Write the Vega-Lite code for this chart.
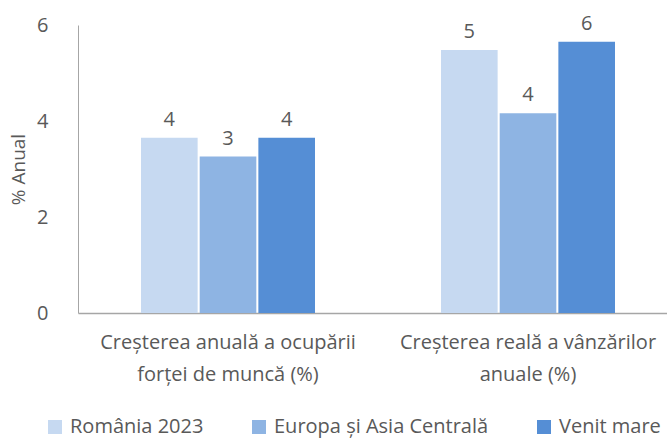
{
  "$schema": "https://vega.github.io/schema/vega-lite/v6.json",
  "width": 600,
  "height": 288,
  "autosize": {"type": "none"},
  "padding": {"left": 78, "top": 25, "right": 0, "bottom": 126},
  "background": "white",
  "config": {"view": {"stroke": null}, "font": "Open Sans"},
  "data": {
    "values": [
      {"indicator": "Creșterea anuală a ocupării forței de muncă (%)", "region": "România 2023", "value": 3.65},
      {"indicator": "Creșterea anuală a ocupării forței de muncă (%)", "region": "Europa și Asia Centrală", "value": 3.26},
      {"indicator": "Creșterea anuală a ocupării forței de muncă (%)", "region": "Venit mare", "value": 3.65},
      {"indicator": "Creșterea reală a vânzărilor anuale (%)", "region": "România 2023", "value": 5.48},
      {"indicator": "Creșterea reală a vânzărilor anuale (%)", "region": "Europa și Asia Centrală", "value": 4.16},
      {"indicator": "Creșterea reală a vânzărilor anuale (%)", "region": "Venit mare", "value": 5.65}
    ]
  },
  "encoding": {
    "x": {
      "field": "indicator",
      "type": "nominal",
      "sort": null,
      "scale": {"paddingInner": 0.42, "paddingOuter": 0.21},
      "axis": {
        "title": null,
        "labelAngle": 0,
        "ticks": false,
        "labelPadding": 19,
        "labelFontSize": 20,
        "labelLineHeight": 32,
        "labelColor": "#595959",
        "labelLimit": 400,
        "domainColor": "#A6A6A6",
        "domainWidth": 1.5,
        "labelExpr": "datum.value == 'Creșterea anuală a ocupării forței de muncă (%)' ? ['Creșterea anuală a ocupării', 'forței de muncă (%)'] : ['Creșterea reală a vânzărilor', 'anuale (%)']"
      }
    },
    "xOffset": {
      "field": "region",
      "type": "nominal",
      "sort": ["România 2023", "Europa și Asia Centrală", "Venit mare"],
      "scale": {"paddingInner": 0.035}
    },
    "y": {
      "field": "value",
      "type": "quantitative",
      "scale": {"domain": [0, 6]},
      "axis": {
        "values": [0, 2, 4, 6],
        "grid": false,
        "ticks": false,
        "labelPadding": 30,
        "labelFontSize": 20,
        "labelColor": "#595959",
        "domainColor": "#A6A6A6",
        "title": "% Anual",
        "titleFontSize": 19,
        "titleFontWeight": "normal",
        "titleColor": "#595959",
        "titlePadding": 8
      }
    }
  },
  "layer": [
    {
      "mark": {"type": "bar"},
      "encoding": {
        "color": {
          "field": "region",
          "type": "nominal",
          "sort": ["România 2023", "Europa și Asia Centrală", "Venit mare"],
          "scale": {"domain": ["România 2023", "Europa și Asia Centrală", "Venit mare"], "range": ["#C6D9F1", "#8EB4E3", "#558ED5"]},
          "legend": {
            "title": null,
            "orient": "none",
            "legendX": -33,
            "legendY": 392,
            "direction": "horizontal",
            "symbolType": "square",
            "symbolSize": 196,
            "symbolStrokeWidth": 0,
            "symbolOpacity": 1,
            "labelFontSize": 20,
            "labelColor": "#595959",
            "labelOffset": 5,
            "columnPadding": 45,
            "labelLimit": 400
          }
        }
      }
    },
    {
      "mark": {"type": "text", "baseline": "bottom", "dy": -8, "fontSize": 20, "color": "#595959"},
      "encoding": {
        "text": {"field": "value", "type": "quantitative", "format": ".0f"}
      }
    }
  ]
}
